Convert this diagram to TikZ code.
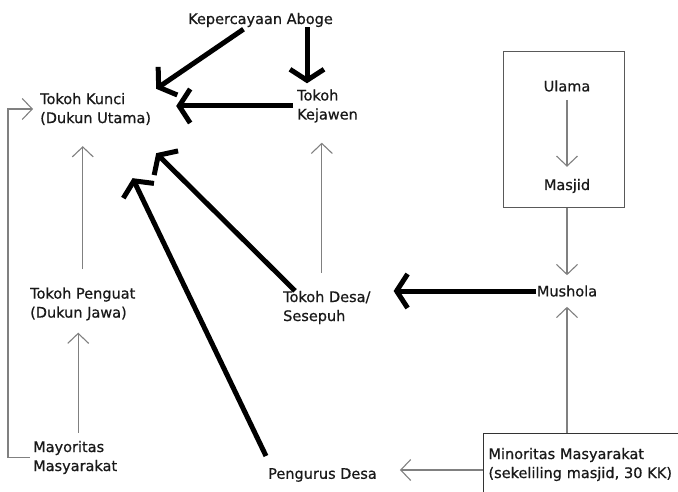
\documentclass[tikz,border=0pt]{standalone}
\usepackage{fontspec}
\setmainfont{DejaVu Sans}
\newfontfamily\lblfont{DejaVu Sans}[FakeBold=0.7]
\usetikzlibrary{arrows.meta}

\begin{document}
\begin{tikzpicture}[
  x=1pt, y=-1pt,
  font=\lblfont\fontsize{14.5}{19}\selectfont,
  lbl/.style={inner sep=0pt, align=left, text=black!90},
  heavy/.style={line width=5pt, -{Straight Barb[length=11pt,width=34pt]}},
  light/.style={draw=black!50, line width=1.1pt, -{Straight Barb[length=10pt,width=21pt]}},
]
\useasboundingbox (0,0) rectangle (678,492);
\clip (0,0) rectangle (678,492);

% labels
\node[lbl] (aboge) at (260.5,20) {Kepercayaan Aboge};
\node[lbl, anchor=west] (kunci) at (40,109) {Tokoh Kunci\\(Dukun Utama)};
\node[lbl, anchor=west] (kejawen) at (297,106) {Tokoh\\Kejawen};
\node[lbl] (ulama) at (567,86) {Ulama};
\node[lbl] (masjid) at (567,186) {Masjid};
\node[draw=black!65, line width=1pt, minimum width=121pt, minimum height=156pt] (ulamabox) at (563.5,130) {};
\node[lbl] (mushola) at (567,291) {Mushola};
\node[lbl, anchor=west] (desa) at (283,307.5) {Tokoh Desa/\\Sesepuh};
\node[lbl, anchor=west] (penguat) at (30,304) {Tokoh Penguat\\(Dukun Jawa)};
\node[lbl, anchor=west] (mayoritas) at (33,457.5) {Mayoritas\\Masyarakat};
\node[lbl, anchor=west] (pengurus) at (268,475) {Pengurus Desa};
\node[lbl, draw=black!80, line width=1pt, anchor=north west, inner xsep=5pt, inner ysep=4pt,
  text width=210pt, minimum height=80pt, text depth=40pt] (minoritas) at (483,433)
  {Minoritas Masyarakat\\(sekeliling masjid, 30 KK)};

% heavy arrows
\draw[heavy] ([xshift=-17pt,yshift=-2pt]aboge.south) -- ([xshift=5pt,yshift=4pt]kunci.north east);
\draw[heavy] ([xshift=10pt]kejawen.north west |- aboge.south) -- ([xshift=10pt,yshift=6pt]kejawen.north west);
\draw[heavy] ([xshift=-4pt]kejawen.west) -- ([xshift=25pt]kunci.east |- kejawen.west);
\draw[heavy] ([xshift=12pt]desa.north west) -- ([xshift=5pt,yshift=-28pt]kunci.south east);
\draw[heavy] ([xshift=-2pt,yshift=12pt]pengurus.north west) -- ([xshift=37pt,yshift=-53pt]kunci.south);
\draw[heavy] ([xshift=-1pt]mushola.west) -- ([xshift=23pt]desa.east |- mushola.west);

% light arrows
\draw[light] ([yshift=18pt]penguat.north) -- ([yshift=-21pt]kunci.south -| penguat.north);
\draw[light] ([xshift=3pt,yshift=8pt]mayoritas.north) -- ([xshift=3pt,yshift=-12pt]penguat.south -| mayoritas.north);
\draw[light] ([xshift=-5pt,yshift=18pt]desa.north) -- ([xshift=-5pt,yshift=-20pt]kejawen.south -| desa.north);
\draw[light] ([yshift=-8pt]ulama.south) -- ([yshift=12pt]masjid.north);
\draw[light] (ulamabox.south -| mushola.north) -- ([yshift=10pt]mushola.north);
\draw[light] (minoritas.north -| mushola.south) -- ([yshift=-10pt]mushola.south);
\draw[light] ([yshift=5pt]minoritas.west |- pengurus.east) -- ([xshift=23pt,yshift=5pt]pengurus.east);
\draw[light] ([xshift=-3pt]mayoritas.west) -- ([xshift=-25pt]mayoritas.west) |- ([xshift=-7pt]kunci.west);
\end{tikzpicture}
\end{document}
